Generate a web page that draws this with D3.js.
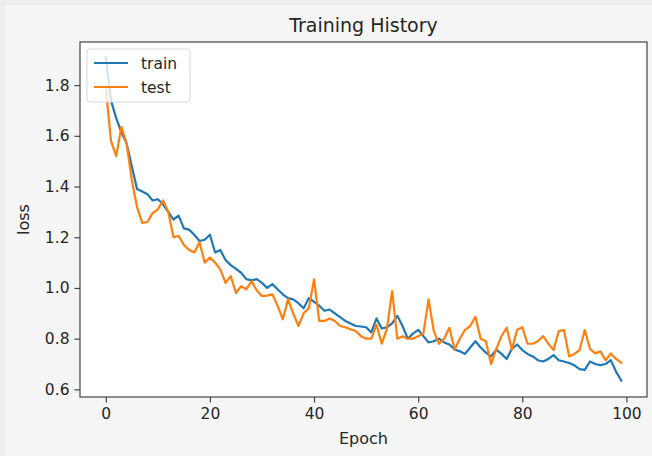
<!DOCTYPE html>
<html>
<head>
<meta charset="utf-8">
<script src="https://cdn.jsdelivr.net/npm/d3@7"></script>
<style>
  html, body { margin: 0; padding: 0; background: #eeeeee; }
  svg { display: block; }
  text { font-family: "DejaVu Sans", sans-serif; fill: #262626; }
</style>
</head>
<body>
<svg id="chart" width="652" height="456"></svg>
<script>
const epochs = d3.range(0, 100);
const trainLoss = [
  1.91, 1.74, 1.67, 1.615, 1.57, 1.48, 1.39, 1.38, 1.37, 1.345,
  1.35, 1.33, 1.30, 1.27, 1.285, 1.235, 1.23, 1.21, 1.185, 1.19,
  1.21, 1.14, 1.15, 1.11, 1.09, 1.075, 1.06, 1.035, 1.03, 1.035,
  1.02, 1.00, 1.015, 0.995, 0.975, 0.96, 0.955, 0.94, 0.92, 0.96,
  0.945, 0.93, 0.91, 0.915, 0.90, 0.885, 0.87, 0.86, 0.85, 0.848,
  0.845, 0.825, 0.88, 0.84, 0.845, 0.86, 0.89, 0.85, 0.80, 0.82,
  0.835, 0.81, 0.785, 0.79, 0.80, 0.785, 0.777, 0.757, 0.75, 0.74,
  0.765, 0.79, 0.765, 0.745, 0.73, 0.757, 0.74, 0.72, 0.76, 0.777,
  0.755, 0.74, 0.73, 0.715, 0.71, 0.72, 0.735, 0.715, 0.71, 0.704,
  0.695, 0.68, 0.677, 0.71, 0.70, 0.696, 0.70, 0.715, 0.67, 0.635
];
const testLoss = [
  1.79, 1.58, 1.52, 1.635, 1.57, 1.425, 1.32, 1.257, 1.26, 1.295,
  1.31, 1.345, 1.30, 1.20, 1.205, 1.17, 1.15, 1.14, 1.18, 1.10,
  1.12, 1.10, 1.073, 1.02, 1.047, 0.98, 1.007, 0.995, 1.027, 0.99,
  0.968, 0.97, 0.975, 0.93, 0.876, 0.955, 0.90, 0.85, 0.90, 0.92,
  1.034, 0.87, 0.87, 0.88, 0.87, 0.85, 0.845, 0.837, 0.83, 0.81,
  0.80, 0.80, 0.855, 0.78, 0.84, 0.988, 0.80, 0.81, 0.80, 0.80,
  0.81, 0.82, 0.955, 0.83, 0.78, 0.80, 0.843, 0.757, 0.80, 0.835,
  0.85, 0.886, 0.80, 0.79, 0.70, 0.76, 0.81, 0.843, 0.757, 0.835,
  0.845, 0.78, 0.78, 0.79, 0.81, 0.78, 0.755, 0.83, 0.834, 0.73,
  0.74, 0.755, 0.834, 0.76, 0.742, 0.75, 0.715, 0.742, 0.72, 0.705
];
const seriesNames = ["train", "test"];
const seriesColors = ["#1f77b4", "#ff7f0e"];
const xTicks = [0, 20, 40, 60, 80, 100];
const yTicks = [0.6, 0.8, 1.0, 1.2, 1.4, 1.6, 1.8];
const titleText = "Training History";
const xLabel = "Epoch";
const yLabel = "loss";

const svg = d3.select("#chart");
const W = 652, H = 456;
const plot = { left: 80, right: 647, top: 42, bottom: 397 };

// figure background
svg.append("rect").attr("x", 5).attr("y", 5).attr("width", W - 5).attr("height", H - 5).attr("fill", "#f5f5f5");
// axes background
svg.append("rect").attr("x", plot.left).attr("y", plot.top)
  .attr("width", plot.right - plot.left).attr("height", plot.bottom - plot.top).attr("fill", "#ffffff");

const x = d3.scaleLinear().domain([-4.95, 103.95]).range([plot.left, plot.right]);
const y = d3.scaleLinear().domain([0.57, 1.97]).range([plot.bottom, plot.top]);

const xAxis = svg.append("g").attr("transform", `translate(0,${plot.bottom})`)
  .call(d3.axisBottom(x).tickValues(xTicks).tickFormat(d3.format("d")).tickSize(5.5).tickPadding(5));
const yAxis = svg.append("g").attr("transform", `translate(${plot.left},0)`)
  .call(d3.axisLeft(y).tickValues(yTicks).tickFormat(d3.format(".1f")).tickSize(5.5).tickPadding(5));
[xAxis, yAxis].forEach(g => {
  g.select(".domain").remove();
  g.selectAll(".tick line").attr("stroke", "#444").attr("stroke-width", 1.2);
  g.selectAll(".tick text").attr("font-size", "15.5px").attr("font-family", "DejaVu Sans").attr("fill", "#262626");
});

// lines
const clip = svg.append("clipPath").attr("id", "clip").append("rect")
  .attr("x", plot.left).attr("y", plot.top).attr("width", plot.right - plot.left).attr("height", plot.bottom - plot.top);
const line = d3.line().x((d, i) => x(epochs[i])).y(d => y(d));
[trainLoss, testLoss].forEach((s, k) => {
  svg.append("path").datum(s).attr("d", line).attr("fill", "none")
    .attr("stroke", seriesColors[k]).attr("stroke-width", 2.2)
    .attr("stroke-linejoin", "round").attr("stroke-linecap", "square")
    .attr("clip-path", "url(#clip)");
});

// spines
svg.append("rect").attr("x", plot.left).attr("y", plot.top)
  .attr("width", plot.right - plot.left).attr("height", plot.bottom - plot.top)
  .attr("fill", "none").attr("stroke", "#444").attr("stroke-width", 1.2);

// title and labels
svg.append("text").attr("x", (plot.left + plot.right) / 2).attr("y", 32)
  .attr("text-anchor", "middle").attr("font-size", "19px").text(titleText);
svg.append("text").attr("x", (plot.left + plot.right) / 2).attr("y", 444)
  .attr("text-anchor", "middle").attr("font-size", "16px").text(xLabel);
svg.append("text").attr("transform", `translate(29,${(plot.top + plot.bottom) / 2}) rotate(-90)`)
  .attr("text-anchor", "middle").attr("font-size", "16px").text(yLabel);

// legend
const lg = svg.append("g");
lg.append("rect").attr("x", 87).attr("y", 49).attr("width", 103).attr("height", 53)
  .attr("rx", 3).attr("fill", "#ffffff").attr("fill-opacity", 0.8)
  .attr("stroke", "#d6d6d6").attr("stroke-width", 1);
seriesNames.forEach((name, k) => {
  const cy = 63 + k * 24;
  lg.append("line").attr("x1", 94).attr("x2", 128).attr("y1", cy).attr("y2", cy)
    .attr("stroke", seriesColors[k]).attr("stroke-width", 2.2);
  lg.append("text").attr("x", 141).attr("y", cy + 5.5).attr("font-size", "15.5px").text(name);
});
</script>
</body>
</html>
